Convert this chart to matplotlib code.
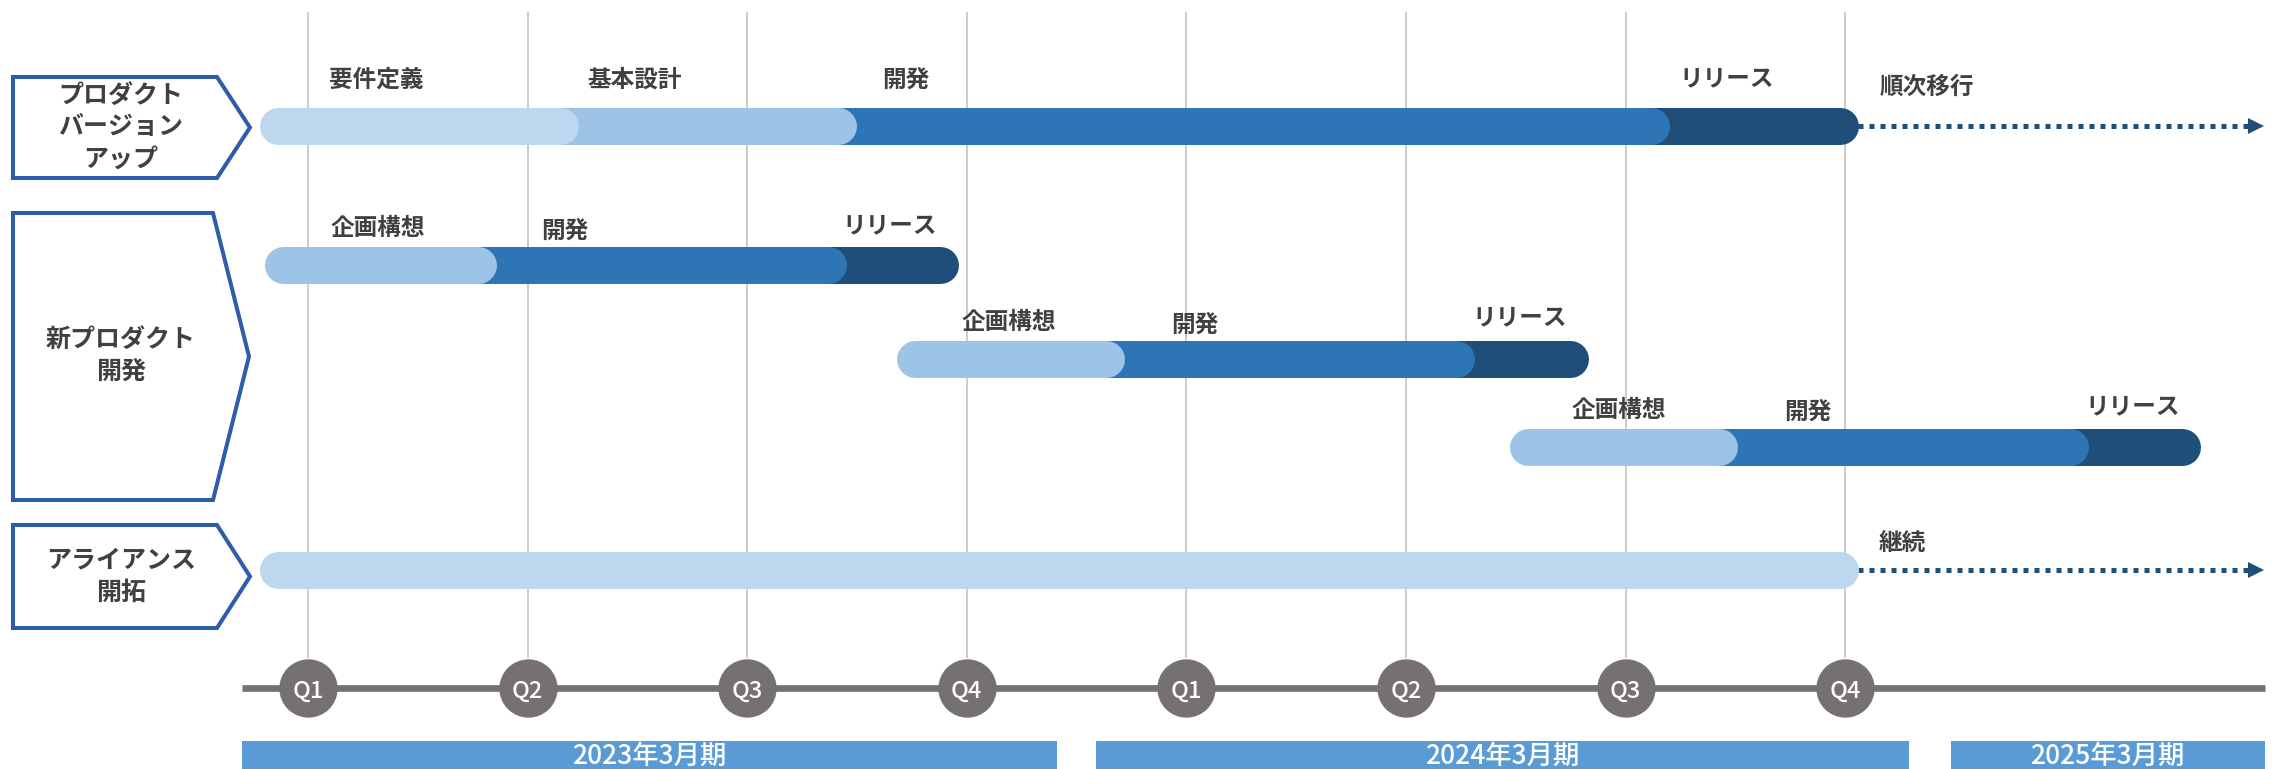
import numpy as np
import matplotlib.pyplot as plt
from matplotlib.patches import Polygon, Rectangle

plt.rcParams['font.family'] = ['Noto Sans CJK JP', 'DejaVu Sans']

# ---- data (x は四半期単位: 0 = 2023年3月期 Q1) ----
categories = ['プロダクト\nバージョン\nアップ', '新プロダクト\n開発', 'アライアンス\n開拓']
quarters = ['Q1', 'Q2', 'Q3', 'Q4', 'Q1', 'Q2', 'Q3', 'Q4']
fiscal_years = ['2023年3月期', '2024年3月期', '2025年3月期']
fy_start = [-0.30, 3.59, 7.48]
fy_end = [3.41, 7.29, 8.91]

pv_phases = ['要件定義', '基本設計', '開発', 'リリース']
pv_bounds = [-0.22, 1.23, 2.50, 6.20, 7.06]
pv_next = '順次移行'

np_phases = ['企画構想', '開発', 'リリース']
np1_bounds = [-0.20, 0.86, 2.45, 2.96]
np2_bounds = [2.68, 3.72, 5.31, 5.83]
np3_bounds = [5.47, 6.51, 8.11, 8.62]

al_bounds = [-0.22, 7.06]
al_next = '継続'

# ---- layout ----
W, H = 2272, 769
PXQ = 219.6      # px per quarter
Q0 = 308         # px of first quarter
TXT = '#404040'
LIGHT, MID, BLUE, DARK = '#BDD7EE', '#9DC3E6', '#2E75B6', '#1F4E79'
GRAY = '#767171'

fig = plt.figure(figsize=(W / 100, H / 100), dpi=100)
bg = fig.add_axes([0, 0, 1, 1])
bg.set_xlim(0, W)
bg.set_ylim(H, 0)
bg.axis('off')
ax = fig.add_axes([0, 0, 1, 1])
ax.set_xlim(-Q0 / PXQ, (W - Q0) / PXQ)
ax.set_ylim(H, 0)
ax.axis('off')
ax.patch.set_alpha(0)

# left category boxes (pentagons)
boxes = [(77, 178, 217, 250), (213, 500, 213, 249), (525, 628, 217, 250)]
for (top, bot, rx, tip), label in zip(boxes, categories):
    cy = (top + bot) / 2
    bg.add_patch(Polygon([(13, top), (rx, top), (tip, cy), (rx, bot), (13, bot)],
                         closed=True, fill=False, ec='#2E5DAA', lw=2.9, joinstyle='miter'))
    lines = label.split('\n')
    for i, ln in enumerate(lines):
        bg.text(121, cy + (i - (len(lines) - 1) / 2) * 32, ln, ha='center', va='center',
                fontsize=18, color=TXT, fontweight='bold')

# quarter grid lines
ax.vlines(np.arange(len(quarters)), 12, 658, color='#BFBFBF', lw=1.1, zorder=1)

# bars
BAR_H = 37
r = BAR_H / 2 / PXQ
blw = BAR_H * 0.72


def draw_bar(y, bounds, colors):
    a = bounds[0] + r
    for i, (e, c) in enumerate(zip(bounds[1:], colors)):
        ax.plot([a, e - r], [y, y], color=c, lw=blw, solid_capstyle='round', zorder=10 - i)
        a = e - r


def phase_labels(y, names, xs, dys):
    for n, x, dy in zip(names, xs, dys):
        ax.text(x, y + dy, n, ha='center', va='center', fontsize=17,
                color=TXT, fontweight='bold', zorder=12)


def dotted_arrow(y, x0):
    x1 = (2249 - Q0) / PXQ
    ax.plot([x0, x1], [y, y], color=DARK, lw=3.6, ls=(0, (1, 1.2)),
            dash_capstyle='butt', zorder=3)
    ax.plot((2256 - Q0) / PXQ, y, marker='>', ms=11.5, color=DARK, mew=0, zorder=3)


# プロダクトバージョンアップ
y1 = 126
draw_bar(y1, pv_bounds, [LIGHT, MID, BLUE, DARK])
phase_labels(y1, pv_phases, [0.31, 1.49, 2.72, 6.46], [-46, -46, -46, -48])
dotted_arrow(y1, pv_bounds[-1])
ax.text(7.37, y1 - 39, pv_next, ha='center', va='center', fontsize=17,
        color=TXT, fontweight='bold')

# 新プロダクト開発
for y, b, xs, dys in [(265, np1_bounds, [0.32, 1.17, 2.65], [-37, -34, -40]),
                      (359, np2_bounds, [3.19, 4.04, 5.52], [-37, -34, -42]),
                      (447, np3_bounds, [5.97, 6.83, 8.31], [-37, -35, -41])]:
    draw_bar(y, b, [MID, BLUE, DARK])
    phase_labels(y, np_phases, xs, dys)

# アライアンス開拓
y3 = 570
draw_bar(y3, al_bounds, [LIGHT])
dotted_arrow(y3, al_bounds[-1])
ax.text(7.26, y3 - 27, al_next, ha='center', va='center', fontsize=17,
        color=TXT, fontweight='bold')

# timeline
ty = 688
ax.plot([fy_start[0], fy_end[-1]], [ty, ty], color=GRAY, lw=4.8, zorder=4,
        solid_capstyle='butt')
qx = np.arange(len(quarters))
ax.scatter(qx, [ty] * len(qx), s=42 ** 2, color=GRAY, zorder=5, linewidths=0)
for x, q in zip(qx, quarters):
    ax.text(x, ty + 3, q, ha='center', va='center', fontsize=17, color='white',
            fontweight='medium', zorder=6)

# fiscal year bands
for s, e, lab in zip(fy_start, fy_end, fiscal_years):
    ax.add_patch(Rectangle((s, 741), e - s, 30, color='#5B9BD5', zorder=4, lw=0))
    ax.text((s + e) / 2, 756, lab, ha='center', va='center', fontsize=19,
            color='white', fontweight='medium', zorder=5)

fig.savefig('out.png', dpi=100)
